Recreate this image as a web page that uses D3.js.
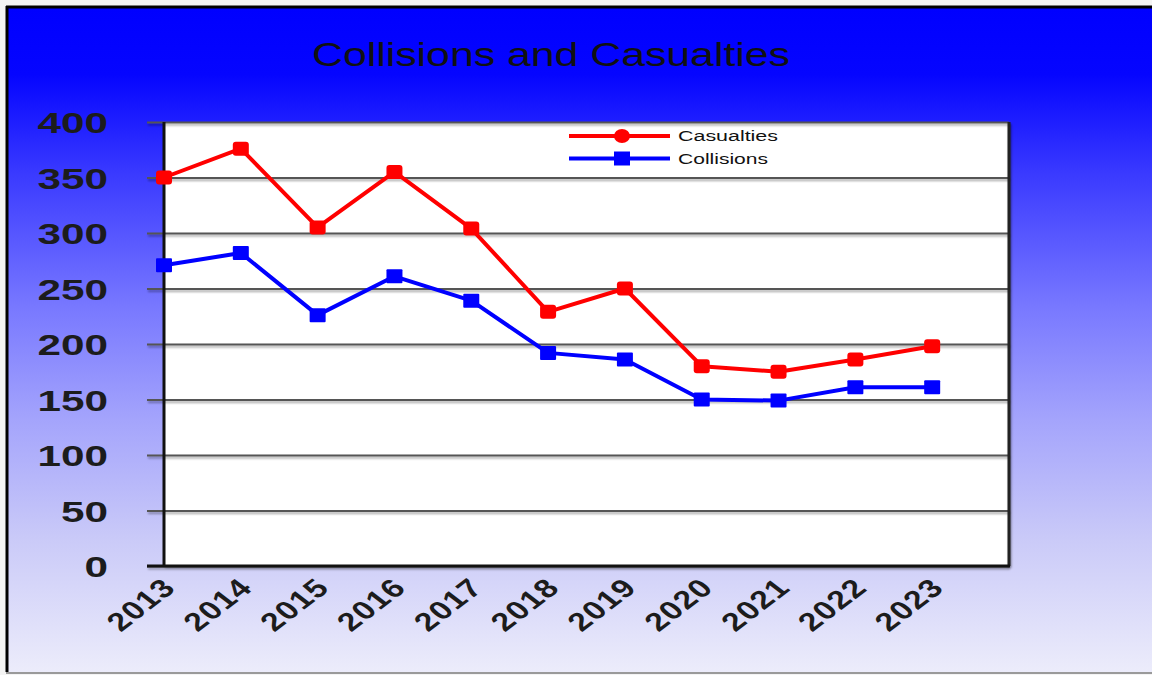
<!DOCTYPE html>
<html><head><meta charset="utf-8">
<script src="https://cdn.jsdelivr.net/npm/d3@7"></script>
<style>html,body{margin:0;padding:0;background:#fff;}svg{display:block;}</style>
</head><body>
<svg id="chart" width="1152" height="675"></svg>
<script>
const years = [2013,2014,2015,2016,2017,2018,2019,2020,2021,2022,2023];
const casualties = [350,376,305,355,304,229,250,180,175,186,198];
const collisions = [271,282,226,261,239,192,186,150,149,161,161];
const yTicks = [0,50,100,150,200,250,300,350,400];
const seriesNames = ["Casualties","Collisions"];
const seriesColors = ["#ff0000","#0000ff"];
const titleText = "Collisions and Casualties";

(function(){
const svg = d3.select("#chart");
const W = 1152, H = 675;
const defs = svg.append("defs");
const g = defs.append("linearGradient").attr("id","bg").attr("x1",0).attr("y1",0).attr("x2",0).attr("y2",1);
[["0%","#0000ff"],["10%","#0505ff"],["25%","#3a3aff"],["45%","#7878ff"],["62%","#a4a4fc"],["80%","#cacaf8"],["100%","#ececfb"]]
  .forEach(([o,c])=>g.append("stop").attr("offset",o).attr("stop-color",c));
const sh = defs.append("filter").attr("id","shadow").attr("filterUnits","userSpaceOnUse")
  .attr("x",-1500).attr("y",-1000).attr("width",3000).attr("height",2000);
sh.append("feDropShadow").attr("dx",1).attr("dy",2).attr("stdDeviation",1).attr("flood-color","#000").attr("flood-opacity",0.35);

// frame
svg.append("rect").attr("x",0).attr("y",0).attr("width",W).attr("height",H).attr("fill","#f4f4f4");
svg.append("rect").attr("x",8).attr("y",8).attr("width",W-8).attr("height",664).attr("fill","url(#bg)");
svg.append("line").attr("x1",6).attr("x2",W).attr("y1",7).attr("y2",7).attr("stroke","#000").attr("stroke-width",3);
svg.append("line").attr("x1",7).attr("x2",7).attr("y1",6).attr("y2",672).attr("stroke","#000").attr("stroke-width",3);
svg.append("line").attr("x1",6).attr("x2",W).attr("y1",673).attr("y2",673).attr("stroke","#9a9a9a").attr("stroke-width",2);

// title
svg.append("text").attr("x",312).attr("y",66).attr("font-family","Liberation Sans, Arial, sans-serif")
  .attr("font-size",33).attr("fill","#111").attr("textLength",478).attr("lengthAdjust","spacingAndGlyphs")
  .text(titleText);

const pl = 164, pr = 1009, pt = 122, pb = 566;
const x = d3.scaleLinear().domain([2013,2024]).range([pl,pr]);
const y = d3.scaleLinear().domain([0,400]).range([pb,pt]);

// plot area
svg.append("rect").attr("x",pl).attr("y",pt).attr("width",pr-pl).attr("height",pb-pt)
  .attr("fill","#fff").attr("filter","url(#shadow)");

// gridlines + ticks
const grid = svg.append("g").attr("transform",`translate(${pr},0)`)
  .call(d3.axisLeft(y).tickValues(yTicks).tickSize(pr-147).tickFormat(""));
grid.select(".domain").remove();
grid.selectAll("line").attr("stroke","#555").attr("stroke-width",2).attr("filter","url(#shadow)");

// right border
svg.append("line").attr("x1",pr).attr("x2",pr).attr("y1",pt).attr("y2",pb)
  .attr("stroke","#222").attr("stroke-width",3).attr("filter","url(#shadow)");

// y labels
const yl = svg.append("g");
yTicks.forEach(v=>{
  const s = String(v);
  yl.append("text").attr("x",108).attr("y",y(v)+11).attr("text-anchor","end")
    .attr("font-family","Liberation Sans, Arial, sans-serif").attr("font-weight","bold").attr("font-size",30)
    .attr("fill","#1c1c1c").attr("textLength",s.length*23.5).attr("lengthAdjust","spacingAndGlyphs").text(s);
});

// axes lines
svg.append("line").attr("x1",pl).attr("x2",pl).attr("y1",pt).attr("y2",pb+1)
  .attr("stroke","#111").attr("stroke-width",3);
svg.append("line").attr("x1",147).attr("x2",pr+1).attr("y1",pb).attr("y2",pb)
  .attr("stroke","#111").attr("stroke-width",3);

// x labels
const xa = svg.append("g").attr("transform",`translate(0,${pb})`)
  .call(d3.axisBottom(x).tickValues(years).tickSize(0).tickFormat(d3.format("d")));
xa.select(".domain").remove();
xa.selectAll(".tick text")
  .attr("font-family","Liberation Sans, Arial, sans-serif").attr("font-weight","bold").attr("font-size",26)
  .attr("fill","#1c1c1c").attr("text-anchor","end").attr("dy",0).attr("y",0)
  .attr("transform","translate(13,23) scale(1.3,1) rotate(-45)")
  .attr("letter-spacing",1);

// series
const line = d3.line().x((d,i)=>x(years[i])).y(d=>y(d));
[casualties, collisions].forEach((vals,si)=>{
  svg.append("path").datum(vals).attr("d",line).attr("fill","none")
    .attr("stroke",seriesColors[si]).attr("stroke-width",4).attr("stroke-linejoin","round");
  svg.append("g").selectAll("rect").data(vals).join("rect")
    .attr("x",(d,i)=>x(years[i])-8).attr("y",d=>y(d)-7).attr("width",16).attr("height",14)
    .attr("rx",si===0?3:1).attr("fill",seriesColors[si]);
});

// legend
const lg = svg.append("g");
seriesNames.forEach((n,i)=>{
  const ly = 136 + i*22.5;
  lg.append("line").attr("x1",569).attr("x2",670).attr("y1",ly).attr("y2",ly)
    .attr("stroke",seriesColors[i]).attr("stroke-width",4);
  if(i===0) lg.append("ellipse").attr("cx",622).attr("cy",ly).attr("rx",8).attr("ry",7).attr("fill",seriesColors[i]);
  else lg.append("rect").attr("x",614).attr("y",ly-7).attr("width",16).attr("height",14).attr("fill",seriesColors[i]);
  lg.append("text").attr("x",678).attr("y",ly+5).attr("font-family","Liberation Sans, Arial, sans-serif")
    .attr("font-size",14).attr("fill","#111").attr("textLength",i===0?100:90).attr("lengthAdjust","spacingAndGlyphs").text(n);
});
})();
</script>
</body></html>
